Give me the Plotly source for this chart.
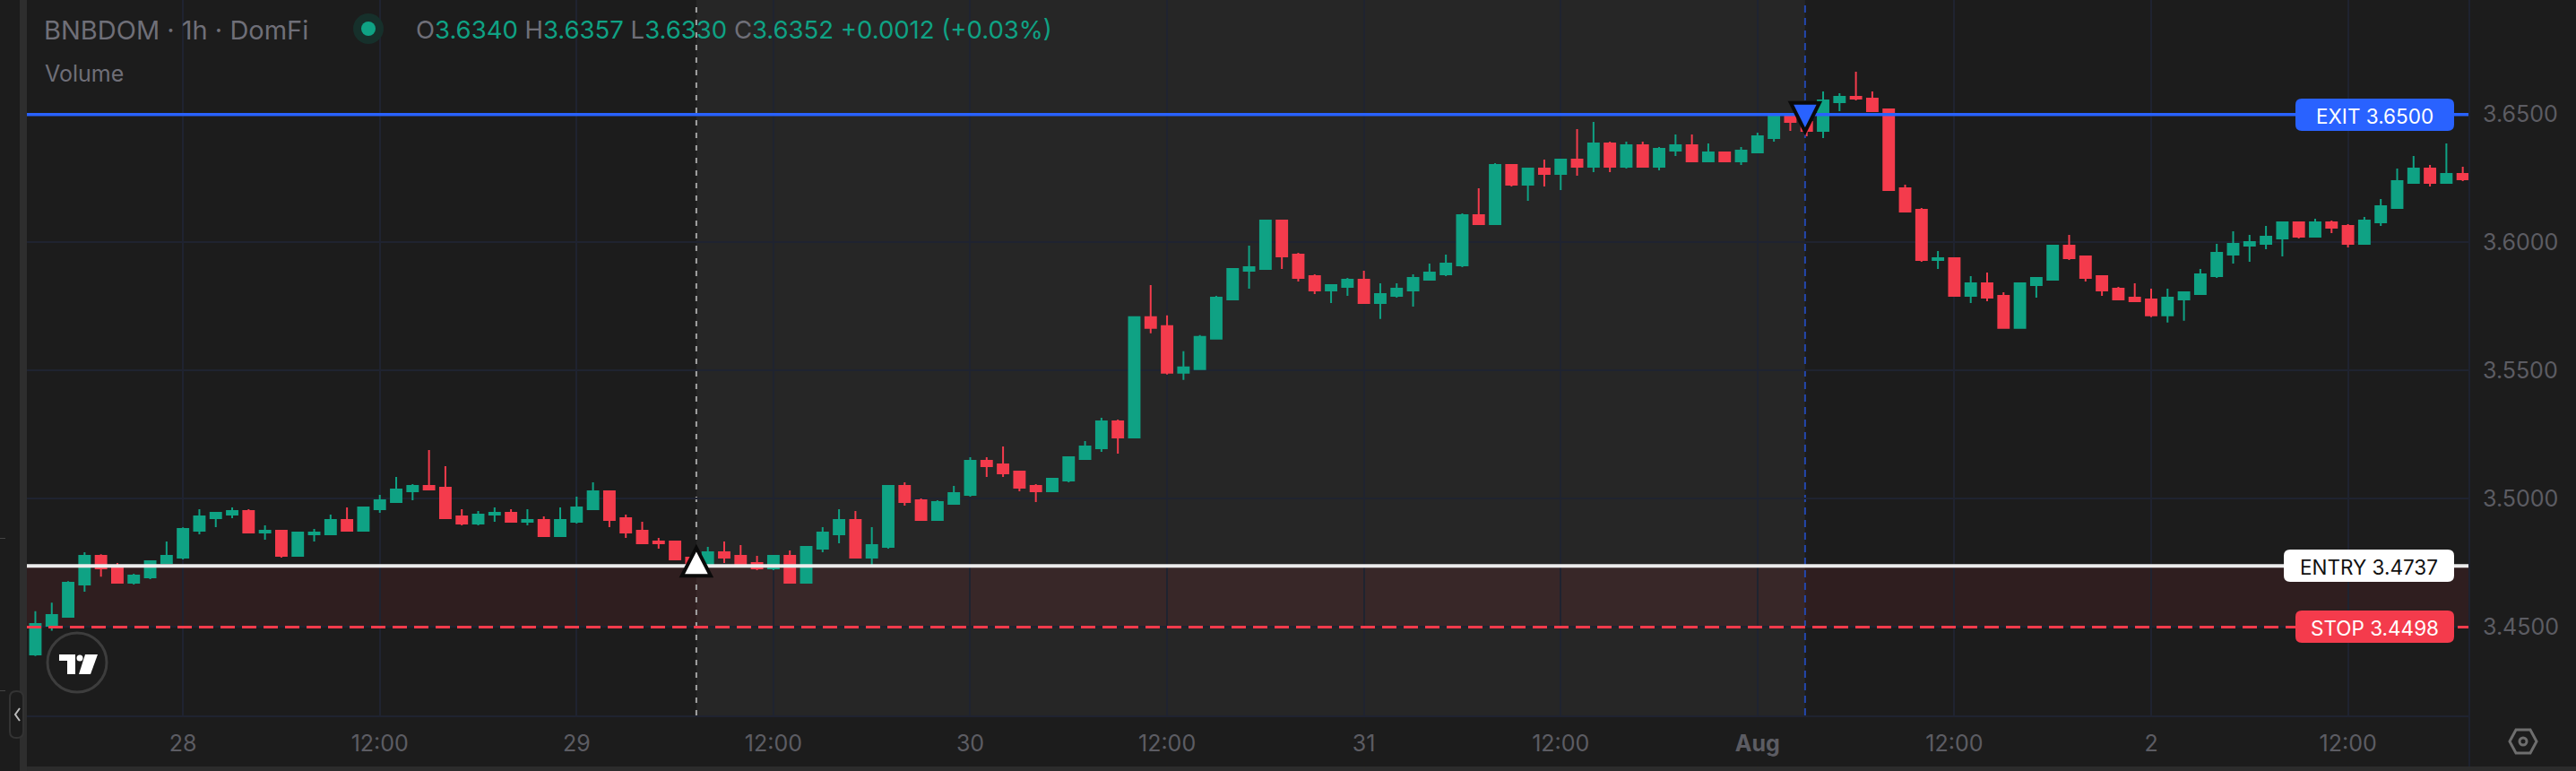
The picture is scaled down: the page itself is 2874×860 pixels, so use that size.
import pandas as pd
import plotly.graph_objects as go

W = 2874
H = 860

# hourly candles, first one is Jul 27 15:00
START = '2025-07-27 15:00'

OPEN = [3.4391, 3.4503, 3.4538, 3.4664, 3.4776, 3.4734, 3.4671, 3.4692, 3.4748, 3.4769,
        3.4874, 3.4923, 3.4937, 3.4951, 3.4867, 3.4874, 3.4776, 3.4860, 3.4860, 3.4916,
        3.4874, 3.4958, 3.4986, 3.5028, 3.5049, 3.5042, 3.4930, 3.4902, 3.4937, 3.4944,
        3.4909, 3.4916, 3.4853, 3.4909, 3.4958, 3.5028, 3.4923, 3.4874, 3.4832, 3.4832,
        3.4769, 3.4741, 3.4790, 3.4776, 3.4748, 3.4727, 3.4776, 3.4671, 3.4804, 3.4860,
        3.4916, 3.4769, 3.4811, 3.5049, 3.4993, 3.4916, 3.4979, 3.5014, 3.5147, 3.5133,
        3.5105, 3.5049, 3.5028, 3.5070, 3.5154, 3.5196, 3.5301, 3.5238, 3.5708, 3.5673,
        3.5491, 3.5505, 3.5624, 3.5778, 3.5890, 3.5897, 3.6086, 3.5953, 3.5869, 3.5813,
        3.5827, 3.5855, 3.5764, 3.5792, 3.5813, 3.5855, 3.5876, 3.5911, 3.6107, 3.6072,
        3.6303, 3.6226, 3.6289, 3.6268, 3.6324, 3.6296, 3.6387, 3.6296, 3.6380, 3.6296,
        3.6359, 3.6380, 3.6317, 3.6352, 3.6317, 3.6352, 3.6408, 3.6492, 3.6471, 3.6436,
        3.6548, 3.6569, 3.6562, 3.6520, 3.6212, 3.6128, 3.5932, 3.5939, 3.5792, 3.5841,
        3.5792, 3.5666, 3.5834, 3.5855, 3.5988, 3.5946, 3.5869, 3.5820, 3.5785, 3.5778,
        3.5715, 3.5778, 3.5799, 3.5869, 3.5953, 3.5988, 3.5995, 3.6016, 3.6079, 3.6023,
        3.6079, 3.6065, 3.5995, 3.6079, 3.6135, 3.6233, 3.6289, 3.6233, 3.6268]

HIGH = [3.4560, 3.4593, 3.4677, 3.4790, 3.4782, 3.4748, 3.4706, 3.4755, 3.4832, 3.4887,
        3.4958, 3.4944, 3.4965, 3.4958, 3.4895, 3.4874, 3.4867, 3.4881, 3.4937, 3.4965,
        3.4965, 3.5014, 3.5084, 3.5056, 3.5189, 3.5126, 3.4958, 3.4951, 3.4965, 3.4958,
        3.4958, 3.4930, 3.4965, 3.5007, 3.5063, 3.5028, 3.4937, 3.4909, 3.4846, 3.4832,
        3.4776, 3.4811, 3.4832, 3.4818, 3.4776, 3.4776, 3.4797, 3.4811, 3.4888, 3.4958,
        3.4951, 3.4888, 3.5049, 3.5063, 3.5000, 3.4993, 3.5049, 3.5161, 3.5161, 3.5203,
        3.5105, 3.5056, 3.5077, 3.5161, 3.5224, 3.5315, 3.5308, 3.5708, 3.5834, 3.5715,
        3.5575, 3.5638, 3.5792, 3.5897, 3.5988, 3.6086, 3.6086, 3.5960, 3.5876, 3.5834,
        3.5862, 3.5890, 3.5841, 3.5841, 3.5876, 3.5918, 3.5953, 3.6114, 3.6212, 3.6310,
        3.6303, 3.6289, 3.6324, 3.6324, 3.6443, 3.6471, 3.6394, 3.6394, 3.6394, 3.6373,
        3.6422, 3.6422, 3.6387, 3.6352, 3.6373, 3.6429, 3.6492, 3.6492, 3.6478, 3.6590,
        3.6583, 3.6667, 3.6590, 3.6520, 3.6226, 3.6135, 3.5967, 3.5939, 3.5869, 3.5883,
        3.5806, 3.5841, 3.5862, 3.5988, 3.6030, 3.5946, 3.5869, 3.5827, 3.5841, 3.5820,
        3.5820, 3.5806, 3.5897, 3.5995, 3.6044, 3.6030, 3.6065, 3.6079, 3.6079, 3.6093,
        3.6086, 3.6072, 3.6100, 3.6170, 3.6289, 3.6338, 3.6303, 3.6387, 3.6296]

LOW = [3.4385, 3.4484, 3.4538, 3.4636, 3.4695, 3.4671, 3.4664, 3.4685, 3.4748, 3.4762,
       3.4860, 3.4888, 3.4923, 3.4867, 3.4839, 3.4769, 3.4776, 3.4832, 3.4860, 3.4874,
       3.4874, 3.4944, 3.4986, 3.4993, 3.5035, 3.4923, 3.4895, 3.4895, 3.4909, 3.4909,
       3.4895, 3.4853, 3.4853, 3.4902, 3.4958, 3.4888, 3.4846, 3.4825, 3.4804, 3.4762,
       3.4734, 3.4734, 3.4748, 3.4741, 3.4720, 3.4720, 3.4671, 3.4671, 3.4790, 3.4825,
       3.4769, 3.4741, 3.4804, 3.4972, 3.4916, 3.4916, 3.4979, 3.5007, 3.5084, 3.5084,
       3.5028, 3.4986, 3.5028, 3.5063, 3.5154, 3.5182, 3.5175, 3.5238, 3.5645, 3.5484,
       3.5463, 3.5505, 3.5624, 3.5778, 3.5820, 3.5897, 3.5897, 3.5848, 3.5799, 3.5764,
       3.5792, 3.5764, 3.5701, 3.5785, 3.5750, 3.5855, 3.5869, 3.5904, 3.6072, 3.6072,
       3.6219, 3.6163, 3.6219, 3.6205, 3.6261, 3.6275, 3.6275, 3.6289, 3.6296, 3.6282,
       3.6338, 3.6317, 3.6317, 3.6317, 3.6303, 3.6352, 3.6394, 3.6436, 3.6415, 3.6408,
       3.6513, 3.6555, 3.6513, 3.6205, 3.6121, 3.5925, 3.5897, 3.5792, 3.5764, 3.5771,
       3.5666, 3.5666, 3.5785, 3.5855, 3.5932, 3.5848, 3.5792, 3.5778, 3.5771, 3.5708,
       3.5687, 3.5694, 3.5799, 3.5862, 3.5918, 3.5925, 3.5974, 3.5946, 3.6016, 3.6023,
       3.6037, 3.5981, 3.5995, 3.6065, 3.6135, 3.6233, 3.6219, 3.6233, 3.6240]

CLOSE = [3.4510, 3.4545, 3.4671, 3.4776, 3.4727, 3.4671, 3.4699, 3.4755, 3.4776, 3.4881,
         3.4930, 3.4944, 3.4951, 3.4867, 3.4874, 3.4776, 3.4867, 3.4867, 3.4916, 3.4874,
         3.4965, 3.4993, 3.5035, 3.5049, 3.5035, 3.4923, 3.4902, 3.4937, 3.4944, 3.4909,
         3.4916, 3.4853, 3.4916, 3.4965, 3.5028, 3.4916, 3.4867, 3.4825, 3.4825, 3.4762,
         3.4741, 3.4790, 3.4769, 3.4741, 3.4727, 3.4776, 3.4671, 3.4811, 3.4867, 3.4916,
         3.4769, 3.4818, 3.5049, 3.4986, 3.4916, 3.4986, 3.5021, 3.5147, 3.5126, 3.5098,
         3.5042, 3.5028, 3.5077, 3.5161, 3.5203, 3.5301, 3.5238, 3.5708, 3.5666, 3.5491,
         3.5512, 3.5631, 3.5785, 3.5897, 3.5904, 3.6086, 3.5946, 3.5862, 3.5813, 3.5834,
         3.5855, 3.5764, 3.5799, 3.5820, 3.5862, 3.5883, 3.5918, 3.6107, 3.6072, 3.6303,
         3.6226, 3.6289, 3.6268, 3.6324, 3.6296, 3.6387, 3.6296, 3.6380, 3.6296, 3.6366,
         3.6380, 3.6317, 3.6352, 3.6317, 3.6359, 3.6415, 3.6492, 3.6471, 3.6436, 3.6555,
         3.6569, 3.6562, 3.6513, 3.6205, 3.6121, 3.5932, 3.5939, 3.5792, 3.5841, 3.5785,
         3.5666, 3.5841, 3.5862, 3.5988, 3.5939, 3.5862, 3.5813, 3.5778, 3.5771, 3.5715,
         3.5785, 3.5806, 3.5876, 3.5960, 3.5995, 3.6002, 3.6023, 3.6079, 3.6023, 3.6079,
         3.6058, 3.5995, 3.6086, 3.6142, 3.6240, 3.6289, 3.6233, 3.6268, 3.6247]

EXIT_PRICE = 3.6500
ENTRY_PRICE = 3.4737
STOP_PRICE = 3.4498
ENTRY_TIME = '2025-07-29 07:18'
EXIT_TIME = '2025-08-01 02:54'

PRICE_TICKS = [3.45, 3.50, 3.55, 3.60, 3.65]
TIME_TICKS = ['2025-07-28 00:00', '2025-07-28 12:00', '2025-07-29 00:00', '2025-07-29 12:00',
              '2025-07-30 00:00', '2025-07-30 12:00', '2025-07-31 00:00', '2025-07-31 12:00',
              '2025-08-01 00:00', '2025-08-01 12:00', '2025-08-02 00:00', '2025-08-02 12:00']
TIME_LABELS = ['28', '12:00', '29', '12:00', '30', '12:00', '31', '12:00',
               '<b>Aug</b>', '12:00', '2', '12:00']

BG = '#1c1c1c'
SHADE = '#262626'
GRID = '#1f2330'
TEAL = '#0fa284'
RED = '#f43b4c'
BLUE = '#2962ff'
AXIS_TEXT = '#5c5c63'
HEAD_TEXT = '#6f6f78'
FONT = 'Inter'


def px(x, y):
    """screen pixel -> paper coords"""
    return x / W, 1 - y / H


def poly(points):
    parts = []
    for i, (x, y) in enumerate(points):
        a, b = px(x, y)
        parts.append(f'{"M" if i == 0 else "L"}{a:.5f},{b:.5f}')
    return ' '.join(parts) + ' Z'


def rounded(x0, y0, x1, y1, r):
    c = [px(x0 + r, y0), px(x1 - r, y0), px(x1, y0), px(x1, y0 + r), px(x1, y1 - r),
         px(x1, y1), px(x1 - r, y1), px(x0 + r, y1), px(x0, y1), px(x0, y1 - r),
         px(x0, y0 + r), px(x0, y0)]
    s = 'M{0[0]:.5f},{0[1]:.5f} L{1[0]:.5f},{1[1]:.5f} Q{2[0]:.5f},{2[1]:.5f} {3[0]:.5f},{3[1]:.5f} '
    s += 'L{4[0]:.5f},{4[1]:.5f} Q{5[0]:.5f},{5[1]:.5f} {6[0]:.5f},{6[1]:.5f} '
    s += 'L{7[0]:.5f},{7[1]:.5f} Q{8[0]:.5f},{8[1]:.5f} {9[0]:.5f},{9[1]:.5f} '
    s += 'L{10[0]:.5f},{10[1]:.5f} Q{11[0]:.5f},{11[1]:.5f} {0[0]:.5f},{0[1]:.5f} Z'
    return s.format(*c)


def add_path(fig, path, fill=None, line=None, width=0):
    fig.add_shape(type='path', xref='paper', yref='paper', path=path,
                  fillcolor=fill if fill else 'rgba(0,0,0,0)',
                  line=dict(color=line if line else 'rgba(0,0,0,0)', width=width),
                  layer='above')


def add_circle(fig, cx, cy, r, fill=None, line=None, width=0):
    x0, y0 = px(cx - r, cy + r)
    x1, y1 = px(cx + r, cy - r)
    fig.add_shape(type='circle', xref='paper', yref='paper', x0=x0, y0=y0, x1=x1, y1=y1,
                  fillcolor=fill if fill else 'rgba(0,0,0,0)',
                  line=dict(color=line if line else 'rgba(0,0,0,0)', width=width),
                  layer='above')


def add_text(fig, x, y, text, size, color, anchor='left'):
    a, b = px(x, y)
    fig.add_annotation(xref='paper', yref='paper', x=a, y=b, text=text, showarrow=False,
                       xanchor=anchor, yanchor='middle',
                       font=dict(family=FONT, size=size, color=color))


def add_pill(fig, x0, x1, yc, color, text, text_color):
    add_path(fig, rounded(x0, yc - 18, x1, yc + 18, 7), fill=color)
    add_text(fig, (x0 + x1) / 2, yc + 1, text, 22.5, text_color, anchor='center')


times = pd.date_range(START, periods=len(OPEN), freq='h')

fig = go.Figure()
fig.add_trace(go.Candlestick(x=times, open=OPEN, high=HIGH, low=LOW, close=CLOSE,
                             increasing=dict(line=dict(color=TEAL, width=2), fillcolor=TEAL),
                             decreasing=dict(line=dict(color=RED, width=2), fillcolor=RED),
                             whiskerwidth=0, showlegend=False))

# trade window and stop zone
fig.add_shape(type='rect', xref='x', yref='y domain', x0=ENTRY_TIME, x1=EXIT_TIME, y0=0, y1=1,
              fillcolor=SHADE, line_width=0, layer='below')
fig.add_shape(type='rect', xref='x domain', yref='y', x0=0, x1=1, y0=STOP_PRICE, y1=ENTRY_PRICE,
              fillcolor='rgba(242,54,69,0.09)', line_width=0, layer='below')
fig.add_shape(type='line', xref='x', yref='y domain', x0=ENTRY_TIME, x1=ENTRY_TIME, y0=0, y1=1,
              line=dict(color='#a3a3a3', width=2, dash='6px,8px'), layer='below')
fig.add_shape(type='line', xref='x', yref='y domain', x0=EXIT_TIME, x1=EXIT_TIME, y0=0, y1=1,
              line=dict(color='#2447ad', width=2, dash='8px,6px'), layer='below')

fig.add_hline(y=EXIT_PRICE, line=dict(color=BLUE, width=3.5))
fig.add_hline(y=ENTRY_PRICE, line=dict(color='#ececec', width=4))
fig.add_hline(y=STOP_PRICE, line=dict(color=RED, width=3, dash='16px,8px'))

add_pill(fig, 2561, 2738, 128, BLUE, 'EXIT 3.6500', '#ffffff')
add_pill(fig, 2548, 2738, 631, '#ffffff', 'ENTRY 3.4737', '#111111')
add_pill(fig, 2561, 2738, 699, RED, 'STOP 3.4498', '#ffffff')

# entry / exit arrows, anchored on price and time, sized in pixels
fig.add_shape(type='path', xref='x', yref='y', xsizemode='pixel', ysizemode='pixel',
              xanchor=ENTRY_TIME, yanchor=ENTRY_PRICE, path='M -16 -11 L 16 -11 L 0 20 Z',
              fillcolor='#ffffff', line=dict(color='#0a0a0a', width=4), layer='above')
fig.add_shape(type='path', xref='x', yref='y', xsizemode='pixel', ysizemode='pixel',
              xanchor=EXIT_TIME, yanchor=EXIT_PRICE, path='M -16 13 L 16 13 L 0 -19 Z',
              fillcolor=BLUE, line=dict(color='#0a0a0a', width=4), layer='above')

# legend row
add_circle(fig, 411, 32, 17, fill='#16302b')
add_circle(fig, 411, 32, 8, fill=TEAL)
add_text(fig, 47, 33, 'BNBDOM · 1h · DomFi', 29, HEAD_TEXT)
g = f'<span style="color:{HEAD_TEXT}">'
ohlc = (f'{g}O</span>3.6340 {g}H</span>3.6357 {g}L</span>3.6330 {g}C</span>3.6352 '
        '+0.0012 (+0.03%)')
add_text(fig, 462, 33, ohlc, 27.5, TEAL)
add_text(fig, 48, 82, 'Volume', 25, HEAD_TEXT)

# TradingView badge
add_circle(fig, 86, 739, 33, fill=BG, line='#3d3d3d', width=3)
add_path(fig, poly([(66, 730), (84, 730), (84, 752), (75, 752), (75, 737), (66, 737)]), fill='#ffffff')
add_circle(fig, 89, 734, 3.5, fill='#ffffff')
add_path(fig, poly([(95, 730), (109, 730), (101, 752), (88, 752)]), fill='#ffffff')

# left rail and bottom edge
add_path(fig, poly([(22, 0), (30, 0), (30, 860), (22, 860)]), fill='#2e2e2e')
add_path(fig, poly([(30, 855), (2874, 855), (2874, 860), (30, 860)]), fill='#2c2c2c')
add_path(fig, poly([(0, 600), (6, 600), (6, 601), (0, 601)]), fill='#444444')
add_path(fig, poly([(0, 770), (6, 770), (6, 771), (0, 771)]), fill='#444444')
add_path(fig, rounded(11, 771, 26, 823, 7), fill=BG, line='#333333', width=2)
add_path(fig, 'M{0[0]:.5f},{0[1]:.5f} L{1[0]:.5f},{1[1]:.5f} L{2[0]:.5f},{2[1]:.5f}'.format(
    px(22, 790), px(17, 797), px(22, 804)), line='#bbbbbb', width=2)

# settings icon
add_path(fig, poly([(2807, 814), (2823, 814), (2830, 827), (2823, 840), (2807, 840), (2800, 827)]),
         line='#6e6e6e', width=3)
add_circle(fig, 2815, 827, 4, line='#6e6e6e', width=3)

# right edge of the time scale and price scale
add_path(fig, poly([(2754, 0), (2756, 0), (2756, 855), (2754, 855)]), fill=GRID)

fig.update_layout(width=W, height=H, margin=dict(l=0, r=0, t=0, b=0), autosize=False,
                  paper_bgcolor=BG, plot_bgcolor=BG, boxgap=0.35, boxgroupgap=0, showlegend=False,
                  font=dict(family=FONT))
fig.update_xaxes(domain=[30 / W, 2755 / W], type='date',
                 range=['2025-07-27 14:29', '2025-08-02 19:24'],
                 rangeslider_visible=False, tickmode='array', tickvals=TIME_TICKS,
                 ticktext=TIME_LABELS, tickfont=dict(family=FONT, size=25, color=AXIS_TEXT),
                 showgrid=True, gridcolor=GRID, gridwidth=2, ticks='', zeroline=False,
                 ticklabelstandoff=8, showline=True, linecolor=GRID, linewidth=2)
fig.update_yaxes(domain=[1 - 798 / H, 1], side='right', range=[3.4153, 3.6947],
                 tickmode='array', tickvals=PRICE_TICKS, tickformat='.4f',
                 tickfont=dict(family=FONT, size=25, color=AXIS_TEXT),
                 showgrid=True, gridcolor=GRID, gridwidth=2, ticks='', zeroline=False,
                 ticklabelstandoff=14, showline=False)

fig.write_html('out.html', config={'displayModeBar': False},
               post_script="document.body.style.margin='0';document.body.style.background='#1c1c1c';")
